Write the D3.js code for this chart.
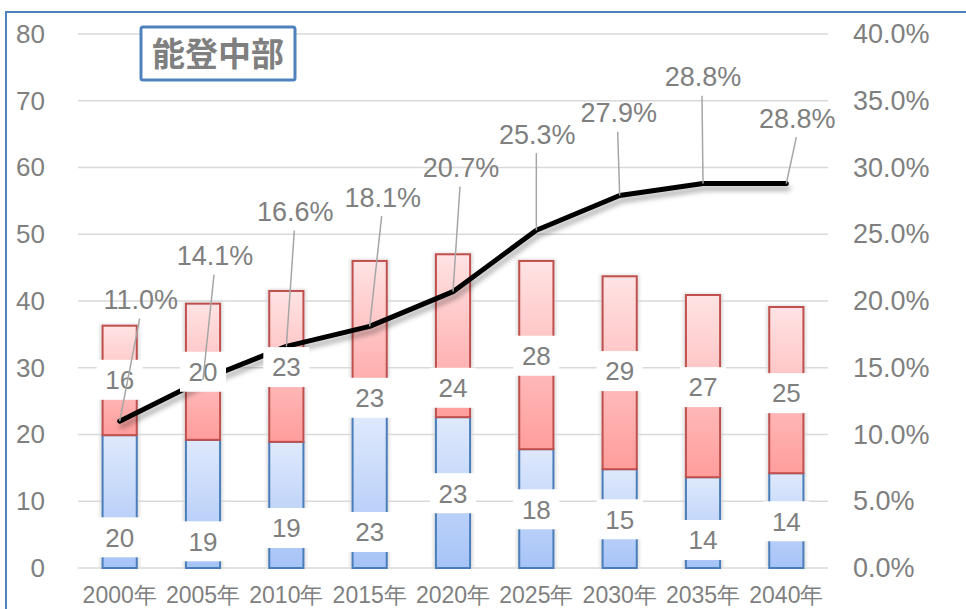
<!DOCTYPE html>
<html><head><meta charset="utf-8">
<script src="https://cdn.jsdelivr.net/npm/d3@7/dist/d3.min.js"></script>
<style>body{margin:0;background:#fff;}svg{display:block;}</style>
</head><body>
<svg id="c" width="966" height="609"></svg>
<script>
// ---- data ----
const categories = ['2000年','2005年','2010年','2015年','2020年','2025年','2030年','2035年','2040年'];
const lowerValues = [19.9, 19.2, 18.9, 23.0, 22.6, 17.8, 14.8, 13.6, 14.2];
const upperValues = [16.4, 20.4, 22.6, 23.0, 24.4, 28.2, 28.9, 27.3, 24.9];
const rateValues  = [0.110, 0.141, 0.166, 0.181, 0.207, 0.253, 0.279, 0.288, 0.288];
const leftTicks  = [0,10,20,30,40,50,60,70,80];
const rightTicks = [0,0.05,0.10,0.15,0.20,0.25,0.30,0.35,0.40];
const title = '能登中部';
// label placement (in axis units) as set manually in the original chart
const lowerLabelAt = [4.6, 4.0, 6.0, 5.4, 11.2, 8.8, 7.3, 4.2, 7.0];
const upperLabelAt = [28.2, 29.4, 30.1, 25.5, 27.0, 31.8, 29.5, 27.1, 26.2];
const rateLabelAt  = [0.201, 0.234, 0.267, 0.278, 0.300, 0.325, 0.341, 0.368, 0.337];
const rateLabelDx  = [21, 12, 9, 13, 8, 1, -1, 0, 11];

const svg = d3.select('#c');
const gray = '#7f7f7f';
const font = "'Liberation Sans', Arial, sans-serif";

const defs = svg.append('defs');
const gb = defs.append('linearGradient').attr('id','gBlue').attr('x1',0).attr('y1',0).attr('x2',0).attr('y2',1);
gb.append('stop').attr('offset','0%').attr('stop-color','#dfe9fc');
gb.append('stop').attr('offset','100%').attr('stop-color','#a6c3f7');
const gr = defs.append('linearGradient').attr('id','gRed').attr('x1',0).attr('y1',0).attr('x2',0).attr('y2',1);
gr.append('stop').attr('offset','0%').attr('stop-color','#ffe3e4');
gr.append('stop').attr('offset','100%').attr('stop-color','#ff9d9c');
const fsh = defs.append('filter').attr('id','lineShadow').attr('x','-10%').attr('y','-20%').attr('width','130%').attr('height','160%');
fsh.append('feDropShadow').attr('dx',2).attr('dy',5).attr('stdDeviation',2.5).attr('flood-color','#000').attr('flood-opacity',0.3);
const fblur = defs.append('filter').attr('id','barGlow').attr('x','-50%').attr('y','-10%').attr('width','200%').attr('height','120%');
fblur.append('feGaussianBlur').attr('stdDeviation',1.5);

// ---- chart frame ----
svg.append('rect').attr('x',6).attr('y',12).attr('width',1000).attr('height',700)
  .attr('fill','#fff').attr('stroke','#4f81bd').attr('stroke-width',2);

// ---- scales ----
const x = d3.scaleBand().domain(categories).range([78,828]).paddingInner(0.59).paddingOuter(0.295);
const yL = d3.scaleLinear().domain([0,80]).range([568,34]);
const yR = d3.scaleLinear().domain([0,0.40]).range([568,34]);

// gridlines
svg.append('g').selectAll('line').data(leftTicks).join('line')
  .attr('x1',78).attr('x2',828).attr('y1',d=>yL(d)).attr('y2',d=>yL(d))
  .attr('stroke','#d9d9d9').attr('stroke-width',1.5);

// axes
const axL = svg.append('g').attr('transform','translate(45,0)')
  .call(d3.axisLeft(yL).tickValues(leftTicks).tickSize(0).tickPadding(0).tickFormat(d3.format('d')));
const axR = svg.append('g').attr('transform','translate(853,0)')
  .call(d3.axisRight(yR).tickValues(rightTicks).tickSize(0).tickPadding(0).tickFormat(d3.format('.1%')));
const axB = svg.append('g').attr('transform','translate(0,581)')
  .call(d3.axisBottom(x).tickSize(0).tickPadding(0));
[axL,axR,axB].forEach(a=>{a.select('.domain').remove();
  a.selectAll('text').attr('fill',gray).attr('font-family',font);});
axL.selectAll('text').attr('font-size',26);
axR.selectAll('text').attr('font-size',27);
axB.selectAll('text').attr('font-size',23).attr('dy','0.95em');

// ---- bars ----
const rows = categories.map((c,i)=>({c,i,lo:lowerValues[i],up:upperValues[i],rate:rateValues[i]}));
const bw = x.bandwidth();
svg.append('g').selectAll('rect').data(rows).join('rect')
  .attr('x',d=>x(d.c)-3).attr('width',bw+6)
  .attr('y',d=>yL(d.lo+d.up)-2).attr('height',d=>yL(0)-yL(d.lo+d.up)+2)
  .attr('fill','#d4d4d4').attr('opacity',0.7).attr('filter','url(#barGlow)');
svg.append('g').selectAll('rect').data(rows).join('rect')
  .attr('x',d=>x(d.c)).attr('width',bw)
  .attr('y',d=>yL(d.lo)).attr('height',d=>yL(0)-yL(d.lo))
  .attr('fill','url(#gBlue)').attr('stroke','#4a7ebb').attr('stroke-width',2);
svg.append('g').selectAll('rect').data(rows).join('rect')
  .attr('x',d=>x(d.c)).attr('width',bw)
  .attr('y',d=>yL(d.lo+d.up)).attr('height',d=>yL(d.lo)-yL(d.lo+d.up))
  .attr('fill','url(#gRed)').attr('stroke','#c0504d').attr('stroke-width',2);

// ---- line ----
const cx = d=>x(d.c)+bw/2;
svg.append('path').datum(rows)
  .attr('d', d3.line().x(cx).y(d=>yR(d.rate)))
  .attr('fill','none').attr('stroke','#000').attr('stroke-width',5)
  .attr('stroke-linejoin','round').attr('stroke-linecap','round')
  .attr('filter','url(#lineShadow)');

// ---- bar labels ----
const fmt0 = d3.format('.0f');
function barLabels(key, at){
  const g = svg.append('g').selectAll('g').data(rows).join('g')
    .attr('transform',d=>`translate(${cx(d)},${yL(at[d.i])})`);
  g.append('rect').attr('x',-23).attr('y',-20).attr('width',46).attr('height',40).attr('fill','#fff');
  g.append('text').attr('text-anchor','middle').attr('dy','0.36em')
    .attr('font-family',font).attr('font-size',26).attr('fill',gray)
    .text(d=>fmt0(d[key]));
}
barLabels('lo', lowerLabelAt);
barLabels('up', upperLabelAt);

// ---- rate labels with leader lines ----
svg.append('g').selectAll('line').data(rows).join('line')
  .attr('x1',d=>cx(d)+rateLabelDx[d.i]-1).attr('y1',d=>yR(rateLabelAt[d.i])+19)
  .attr('x2',cx).attr('y2',d=>yR(d.rate))
  .attr('stroke','#a6a6a6').attr('stroke-width',1.5);
svg.append('g').selectAll('text').data(rows).join('text')
  .attr('x',d=>cx(d)+rateLabelDx[d.i]).attr('y',d=>yR(rateLabelAt[d.i]))
  .attr('text-anchor','middle').attr('dy','0.36em')
  .attr('font-family',font).attr('font-size',27).attr('fill',gray)
  .text(d=>d3.format('.1%')(d.rate));

// ---- title box ----
svg.append('rect').attr('x',141).attr('y',27).attr('width',154).attr('height',53).attr('rx',2)
  .attr('fill','#fff').attr('stroke','#4f81bd').attr('stroke-width',3);
svg.append('text').attr('x',218).attr('y',54).attr('text-anchor','middle').attr('dy','0.36em')
  .attr('font-family',"'Noto Sans CJK JP', sans-serif").attr('font-weight','bold')
  .attr('font-size',33).attr('fill',gray).text(title);
</script>
</body></html>
